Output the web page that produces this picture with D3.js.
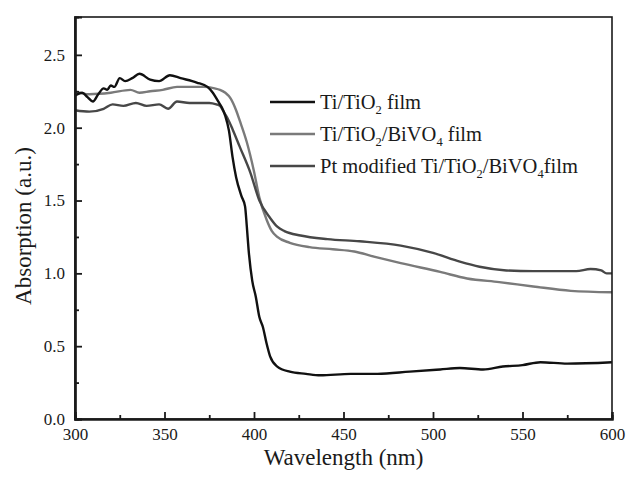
<!DOCTYPE html>
<html><head><meta charset="utf-8">
<script src="https://cdn.jsdelivr.net/npm/d3@7"></script>
<style>body{margin:0;background:#fff}svg{display:block}text{font-family:"Liberation Serif","Times New Roman",serif;fill:#1a1a1a}</style>
</head><body><svg id="c" width="627" height="477"></svg>
<script>
// Ti/TiO2 film
const tio2Wl  = [300,304,307,310,313,316,318,320,322,325,328,332,336,342,347,353,359,368,374,377,380,382,384,386,388,390,393,395,396,397,399,401,403,405,407,409,413,420,429,437,454,469,487,504,515,528,539,550,560,575,600];
const tio2Abs = [2.22,2.24,2.21,2.18,2.23,2.27,2.26,2.29,2.28,2.34,2.32,2.34,2.37,2.33,2.32,2.36,2.34,2.31,2.28,2.24,2.18,2.14,2.08,1.98,1.80,1.66,1.53,1.46,1.32,1.16,0.95,0.84,0.70,0.63,0.52,0.43,0.36,0.325,0.31,0.30,0.31,0.31,0.325,0.34,0.35,0.34,0.36,0.37,0.39,0.38,0.39];
// Ti/TiO2/BiVO4 film
const bivoWl  = [300,308,320,331,336,342,349,357,372,378,381,384,387,390,392,396,400,403,407,410,413,420,431,444,456,467,482,504,519,537,556,577,600];
const bivoAbs = [2.25,2.23,2.24,2.26,2.24,2.25,2.26,2.28,2.28,2.27,2.26,2.24,2.20,2.12,2.05,1.90,1.70,1.52,1.37,1.29,1.25,1.21,1.18,1.165,1.15,1.115,1.07,1.01,0.965,0.94,0.91,0.88,0.87];
// Pt modified Ti/TiO2/BiVO4 film
const ptWl  = [300,308,316,321,327,334,340,347,352,357,364,375,379,381,383,385,388,392,398,403,409,413,417,426,441,459,482,500,515,526,541,556,580,588,594,597,600];
const ptAbs = [2.12,2.11,2.13,2.16,2.15,2.17,2.15,2.16,2.13,2.18,2.17,2.17,2.16,2.15,2.11,2.07,1.99,1.87,1.69,1.50,1.38,1.32,1.29,1.26,1.235,1.22,1.19,1.14,1.08,1.045,1.02,1.015,1.015,1.03,1.02,1.00,1.00];

const xTicks = [300,350,400,450,500,550,600];
const yTicks = [0.0,0.5,1.0,1.5,2.0,2.5];
const seriesNames = ["Ti/TiO2 film","Ti/TiO2/BiVO4 film","Pt modified Ti/TiO2/BiVO4film"];
const seriesColors = ["#111111","#7a7a7a","#474747"];

const svg = d3.select("#c");
const L=75, R=612, T=17, B=419;
const x = d3.scaleLinear().domain([300,600]).range([L,R]);
const y = d3.scaleLinear().domain([0,2.76]).range([B,T]);

const series = [
  {wl:tio2Wl, v:tio2Abs},
  {wl:bivoWl, v:bivoAbs},
  {wl:ptWl, v:ptAbs}
];
const line = d3.line().x(d=>x(d[0])).y(d=>y(d[1])).curve(d3.curveMonotoneX);
[1,2,0].forEach(i=>{
  const s = series[i];
  svg.append("path").datum(s.wl.map((w,j)=>[w,s.v[j]]))
    .attr("d",line).attr("fill","none").attr("stroke",seriesColors[i])
    .attr("stroke-width",2.4).attr("stroke-linejoin","round");
});

// frame
svg.append("rect").attr("x",L).attr("y",T).attr("width",R-L).attr("height",B-T)
  .attr("fill","none").attr("stroke","#1a1a1a").attr("stroke-width",1.6);

// axes
const xAxis = d3.axisBottom(x).tickValues(xTicks).tickSize(-7).tickPadding(9).tickFormat(d3.format("d"));
const gx = svg.append("g").attr("transform",`translate(0,${B})`).call(xAxis);
const xMinor = d3.axisBottom(x).tickValues([325,375,425,475,525,575]).tickSize(-4).tickFormat("");
const gxm = svg.append("g").attr("transform",`translate(0,${B})`).call(xMinor);
const yAxis = d3.axisLeft(y).tickValues(yTicks).tickSize(-7).tickPadding(10).tickFormat(d3.format(".1f"));
const gy = svg.append("g").attr("transform",`translate(${L},0)`).call(yAxis);
const yMinor = d3.axisLeft(y).tickValues([0.25,0.75,1.25,1.75,2.25]).tickSize(-4).tickFormat("");
const gym = svg.append("g").attr("transform",`translate(${L},0)`).call(yMinor);
[gx,gxm,gy,gym].forEach(g=>{
  g.attr("font-family","Liberation Serif");
  g.select(".domain").attr("stroke","#1a1a1a").attr("stroke-width",2.2);
  g.selectAll(".tick line").attr("stroke","#1a1a1a").attr("stroke-width",1.8);
  g.selectAll("text").attr("font-family","Liberation Serif").attr("font-size",17).attr("fill","#222");
});

// titles
svg.append("text").attr("x",(L+R)/2).attr("y",465).attr("text-anchor","middle")
  .attr("font-size",23).text("Wavelength (nm)");
svg.append("text").attr("transform","translate(31,226) rotate(-90)").attr("text-anchor","middle")
  .attr("font-size",23).text("Absorption (a.u.)");

// legend
const legendParts = [
  [["Ti/TiO",0],["2",1],[" film",0]],
  [["Ti/TiO",0],["2",1],["/BiVO",0],["4",1],[" film",0]],
  [["Pt modified Ti/TiO",0],["2",1],["/BiVO",0],["4",1],["film",0]]
];
const legRows = [102,134,166];
legendParts.forEach((parts,i)=>{
  const yy = legRows[i];
  svg.append("line").attr("x1",270).attr("x2",315).attr("y1",yy).attr("y2",yy)
    .attr("stroke",seriesColors[i]).attr("stroke-width",2.6);
  const t = svg.append("text").attr("x",320).attr("y",yy+7).attr("font-size",20.5);
  let sub=false;
  parts.forEach(([s,isSub])=>{
    const ts = t.append("tspan").text(s);
    if(isSub && !sub){ts.attr("font-size",12.5).attr("dy",5);sub=true;}
    else if(!isSub && sub){ts.attr("dy",-5);sub=false;}
  });
});
</script></body></html>
